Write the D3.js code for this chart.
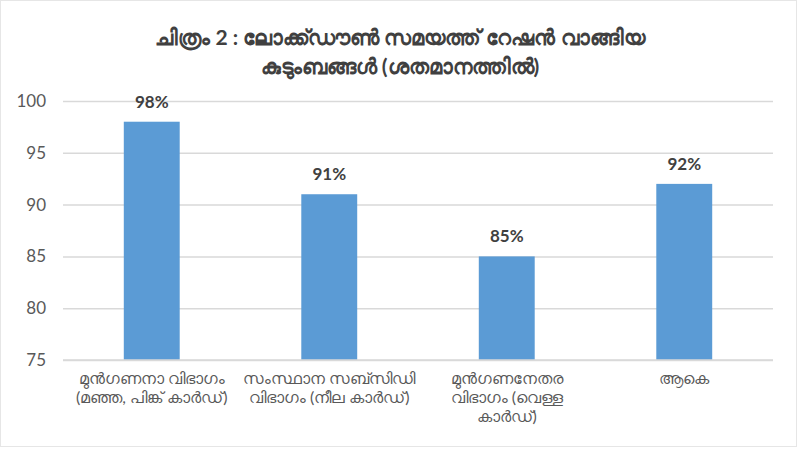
<!DOCTYPE html>
<html>
<head>
<meta charset="utf-8">
<script src="https://cdn.jsdelivr.net/npm/d3@7"></script>
<style>
  body { margin: 0; background: #fff; }
  text { font-family: Lato, "Noto Sans", sans-serif; }
</style>
</head>
<body>
<script>
var w = 800;
var h = 454;

var titleLines = ["ചിത്രം 2 : ലോക്ക്ഡൗൺ സമയത്ത് റേഷൻ വാങ്ങിയ", "കുടുംബങ്ങൾ (ശതമാനത്തിൽ)"];
var categories = [
  ["മുൻഗണനാ വിഭാഗം", "(മഞ്ഞ, പിങ്ക് കാർഡ്)"],
  ["സംസ്ഥാന സബ്സിഡി", "വിഭാഗം (നീല കാർഡ്)"],
  ["മുൻഗണനേതര", "വിഭാഗം (വെള്ള", "കാർഡ്)"],
  ["ആകെ"]
];
var values = [98, 91, 85, 92];
var yTicks = [75, 80, 85, 90, 95, 100];

var svg = d3.select("body")
            .append("svg")
              .attr("width", w)
              .attr("height", h);

svg.append("rect")
    .attr("x", 0.5).attr("y", 0.5)
    .attr("width", w - 4).attr("height", h - 8)
    .attr("fill", "#fff")
    .attr("stroke", "#e6e6e6");

var x = d3.scaleBand()
  .domain(d3.range(values.length))
  .range([63, 773])
  .paddingInner(0.685)
  .paddingOuter(0.3425);

var y = d3.scaleLinear()
  .domain([75, 100])
  .range([360, 101]);

// gridlines + y labels
var yAxis = d3.axisLeft(y)
  .tickValues(yTicks)
  .tickSize(-(773 - 63))
  .tickPadding(17);

var gy = svg.append("g")
  .attr("transform", "translate(63,0)")
  .call(yAxis);
gy.select(".domain").remove();
gy.selectAll(".tick line").attr("stroke", "#d9d9d9").attr("stroke-width", 1.5);
gy.selectAll(".tick text")
  .attr("fill", "#595959")
  .style("font-size", "17px");

svg.selectAll("rect.bar")
  .data(values)
  .enter()
  .append("rect")
    .attr("class", "bar")
    .attr("x", function(d, i) { return x(i); })
    .attr("y", function(d) { return y(d); })
    .attr("width", x.bandwidth())
    .attr("height", function(d) { return y(75) - y(d); })
    .attr("fill", "#5b9bd5");

// axis line at bottom
svg.append("line")
  .attr("x1", 63).attr("x2", 773)
  .attr("y1", y(75)).attr("y2", y(75))
  .attr("stroke", "#d9d9d9").attr("stroke-width", 1.5);

svg.selectAll("text.val")
  .data(values)
  .enter()
  .append("text")
    .attr("class", "val")
    .attr("x", function(d, i) { return x(i) + x.bandwidth() / 2; })
    .attr("y", function(d) { return y(d) - 14; })
    .attr("text-anchor", "middle")
    .attr("fill", "#404040")
    .style("font-size", "17px")
    .style("font-weight", "bold")
    .text(function(d) { return d + "%"; });

// category labels
var cat = svg.selectAll("text.cat")
  .data(categories)
  .enter()
  .append("text")
    .attr("class", "cat")
    .attr("text-anchor", "middle")
    .attr("fill", "#595959")
    .style("font-size", "16px");
cat.each(function(lines, i) {
  d3.select(this).selectAll("tspan")
    .data(lines)
    .enter()
    .append("tspan")
      .attr("x", x(i) + x.bandwidth() / 2)
      .attr("y", function(d, j) { return 384 + j * 19; })
      .text(function(d) { return d; });
});

svg.selectAll("text.title")
  .data(titleLines)
  .enter()
  .append("text")
    .attr("class", "title")
    .attr("x", w / 2)
    .attr("y", function(d, i) { return 45 + i * 29; })
    .attr("text-anchor", "middle")
    .attr("fill", "#404040")
    .style("font-size", "21px")
    .style("font-weight", "bold")
    .text(function(d) { return d; });
</script>
</body>
</html>
